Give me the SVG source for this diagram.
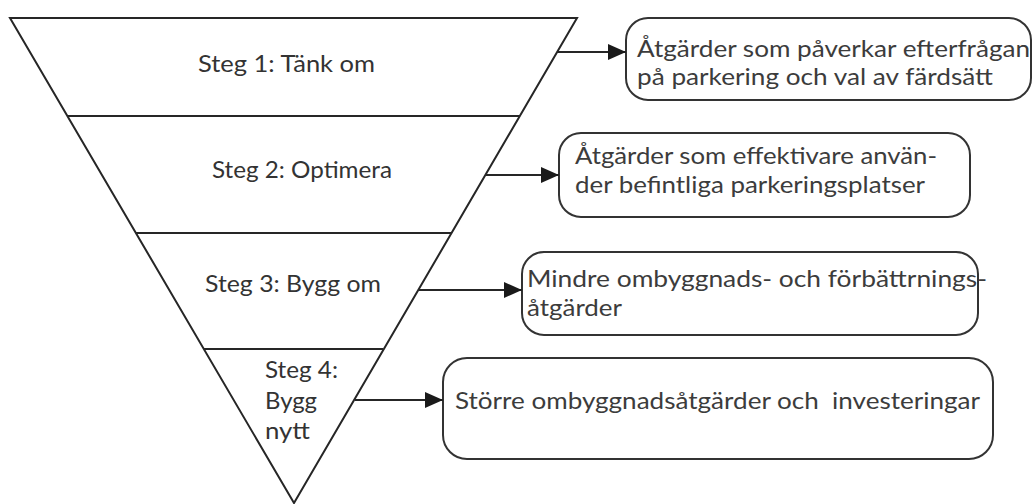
<svg xmlns="http://www.w3.org/2000/svg" width="1035" height="504" viewBox="0 0 1035 504">
<style>
.ln{stroke:#262626;stroke-width:2;fill:none}
.box{fill:#fff;stroke:#333;stroke-width:2}
.st{font-family:Lato,"Open Sans",sans-serif;font-size:23px;fill:#333}
.bt{font-family:Lato,"Open Sans",sans-serif;font-size:23px;fill:#3c3c3c}
</style>
<defs>
<marker id="ah" markerUnits="userSpaceOnUse" markerWidth="18" markerHeight="18" refX="18" refY="8" orient="auto">
<path d="M0,0 L18,8 L0,16 z" fill="#1a1a1a"/>
</marker>
</defs>
<rect width="1035" height="504" fill="#fff"/>
<g id="pyramid">
<polygon class="ln" points="10,18 577,18 294,503" fill="#fff"/>
<line class="ln" x1="67" y1="116" x2="520" y2="116"/>
<line class="ln" x1="136" y1="233" x2="451" y2="233"/>
<line class="ln" x1="204" y1="349" x2="383" y2="349"/>
</g>
<g id="steg1"><text class="st" x="198" y="72" textLength="177" lengthAdjust="spacingAndGlyphs">Steg 1: Tänk om</text></g>
<g id="steg2"><text class="st" x="212" y="178" textLength="180" lengthAdjust="spacingAndGlyphs">Steg 2: Optimera</text></g>
<g id="steg3"><text class="st" x="205" y="292" textLength="176" lengthAdjust="spacingAndGlyphs">Steg 3: Bygg om</text></g>
<g id="steg4">
<text class="st" x="265" y="378" textLength="73" lengthAdjust="spacingAndGlyphs">Steg 4:</text>
<text class="st" x="265" y="409" textLength="52" lengthAdjust="spacingAndGlyphs">Bygg</text>
<text class="st" x="265" y="439" textLength="45" lengthAdjust="spacingAndGlyphs">nytt</text>
</g>
<g id="box1">
<rect class="box" x="626" y="18" width="405" height="82" rx="22"/>
<text class="bt" x="637" y="57" textLength="393" lengthAdjust="spacingAndGlyphs">Åtgärder som påverkar efterfrågan</text>
<text class="bt" x="637" y="85" textLength="356" lengthAdjust="spacingAndGlyphs">på parkering och val av färdsätt</text>
</g>
<g id="box2">
<rect class="box" x="559" y="133" width="411" height="84" rx="22"/>
<text class="bt" x="575" y="164" textLength="362" lengthAdjust="spacingAndGlyphs">Åtgärder som effektivare använ-</text>
<text class="bt" x="575" y="193" textLength="350" lengthAdjust="spacingAndGlyphs">der befintliga parkeringsplatser</text>
</g>
<g id="box3">
<rect class="box" x="522" y="252" width="456" height="83" rx="22"/>
<text class="bt" x="527" y="287" textLength="460" lengthAdjust="spacingAndGlyphs">Mindre ombyggnads- och förbättrnings-</text>
<text class="bt" x="527" y="316" textLength="95" lengthAdjust="spacingAndGlyphs">åtgärder</text>
</g>
<g id="box4">
<rect class="box" x="443" y="358" width="550" height="101" rx="24"/>
<text class="bt" x="455" y="409" textLength="525" lengthAdjust="spacingAndGlyphs" xml:space="preserve">Större ombyggnadsåtgärder och  investeringar</text>
</g>
<g id="connectors">
<line class="ln" x1="557" y1="52" x2="626" y2="52" marker-end="url(#ah)"/>
<line class="ln" x1="486" y1="175" x2="559" y2="175" marker-end="url(#ah)"/>
<line class="ln" x1="419" y1="290" x2="522" y2="290" marker-end="url(#ah)"/>
<line class="ln" x1="355" y1="400" x2="443" y2="400" marker-end="url(#ah)"/>
</g>
</svg>
